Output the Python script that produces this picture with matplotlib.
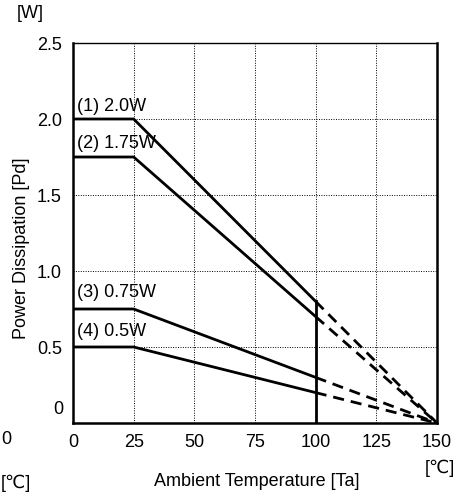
import numpy as np
import matplotlib
matplotlib.use("Agg")
import matplotlib.pyplot as plt

plt.rcParams['font.family'] = ['Liberation Sans', 'DejaVu Sans']

# derating curves: rated power, flat until 25C, zero at 150C
labels = ["(1) 2.0W", "(2) 1.75W", "(3) 0.75W", "(4) 0.5W"]
rated = [2.0, 1.75, 0.75, 0.5]
label_y = [2.08, 1.84, 0.86, 0.60]
t_knee = 25
t_solid_end = 100
t_zero = 150
xticks = [0, 25, 50, 75, 100, 125, 150]
yticks = [0, 0.5, 1.0, 1.5, 2.0, 2.5]

FS = 13

fig = plt.figure(figsize=(4.75, 4.97), dpi=100)
ax = fig.add_axes([73/475, 1 - 423/497, 364/475, 380/497])

def derate(p, t):
    return np.where(t <= t_knee, p, p * (t_zero - t) / (t_zero - t_knee))

for p, lab, ly in zip(rated, labels, label_y):
    ts = np.array([0, t_knee, t_solid_end])
    ax.plot(ts, derate(p, ts), color="black", lw=2, solid_capstyle="butt")
    td = np.array([t_solid_end, t_zero])
    ax.plot(td, derate(p, td), color="black", lw=2, ls=(0, (4, 2.5)))
    ax.text(1.5, ly, lab, fontsize=FS, ha="left", va="center")

top = float(derate(rated[0], np.array(t_solid_end)))
ax.plot([t_solid_end, t_solid_end], [0, top], color="black", lw=2)

ax.set_xlim(0, 150)
ax.set_ylim(0, 2.5)
ax.set_xticks(xticks)
ax.set_xticklabels([str(v) for v in xticks], fontsize=FS)
ax.set_yticks(yticks)
ax.set_yticklabels(["", "0.5", "1.0", "1.5", "2.0", "2.5"], fontsize=FS)
ax.tick_params(length=0, pad=8)
ax.grid(True, color="black", ls=(0, (1, 1.5)), lw=0.7)
for s in ["left", "bottom", "right"]:
    ax.spines[s].set_linewidth(1.8)
ax.spines["top"].set_linewidth(1)

fig.text(22/475, 1 - 248/497, "Power Dissipation [Pd]", fontsize=FS,
         rotation=90, ha="center", va="center")
fig.text(63/475, 1 - 410/497, "0", fontsize=FS, ha="right", va="center")
fig.text(257/475, 1 - 482/497, "Ambient Temperature [Ta]", fontsize=FS, ha="center", va="center")
fig.text(440/475, 1 - 468/497, "[\u2103]", fontsize=FS, ha="center", va="center")
fig.text(30/475, 1 - 13/497, "[W]", fontsize=FS, ha="center", va="center")
fig.text(1/475, 1 - 439/497, "0", fontsize=FS, ha="left", va="center")
fig.text(1/475, 1 - 483/497, "[\u2103]", fontsize=FS, ha="left", va="center")

fig.savefig("out.png", dpi=100)
